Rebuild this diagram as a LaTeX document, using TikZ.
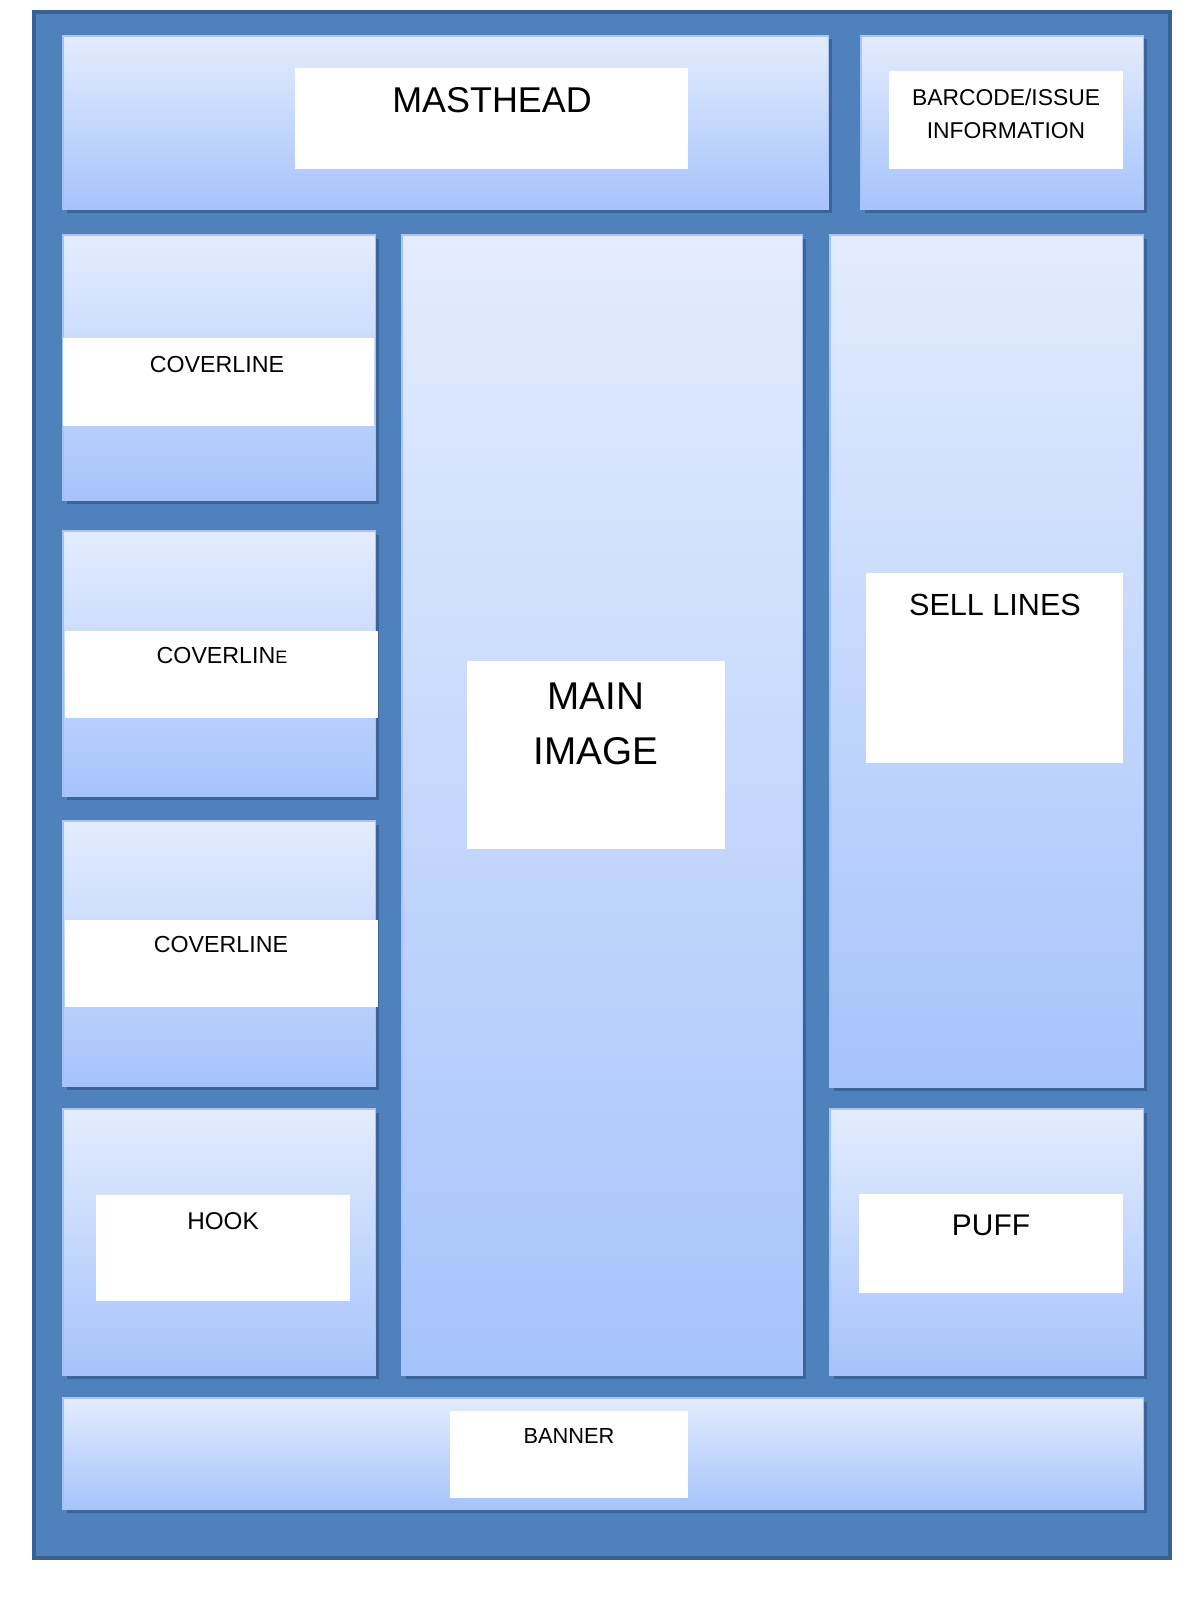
\documentclass[tikz,border=0pt]{standalone}
\usepackage{fontspec}
\setmainfont{Liberation Sans}
\usepackage{tikz}
\usetikzlibrary{shadows,positioning}

\definecolor{frameblue}{HTML}{4F81BD}
\definecolor{framedark}{HTML}{3A6194}
\definecolor{paneltop}{HTML}{E3ECFD}
\definecolor{panelbot}{HTML}{A6C3FB}

\begin{document}
\begin{tikzpicture}[x=0.01cm,y=-0.01cm,
   panel/.style={anchor=north west,inner sep=0pt,outer sep=0pt,
      top color=paneltop,bottom color=panelbot,draw=panelbot,line width=0.3pt,
      drop shadow={shadow xshift=0.035cm,shadow yshift=-0.035cm,fill=framedark,opacity=0.9}},
   whitebox/.style={anchor=north west,inner sep=0pt,outer sep=0pt,fill=white},
   caption/.style={anchor=base,inner sep=0pt,text=black}]
   \useasboundingbox (0,0) rectangle (1200,1600);
   % page frame
   \node[anchor=north west,inner sep=0pt,minimum width=11.35cm,minimum height=15.45cm,
      fill=frameblue,draw=framedark,line width=0.04cm] (page) at (32,10) {};
   % panels
   \node[panel,minimum width=7.65cm,minimum height=1.73cm] (mast) at (63,36) {};
   \node[panel,minimum width=2.82cm,minimum height=1.73cm] (barcode) at (861,36) {};
   \node[panel,minimum width=3.12cm,minimum height=2.65cm] (cover1) at (63,235) {};
   \node[panel,minimum width=3.12cm,minimum height=2.65cm] (cover2) at (63,531) {};
   \node[panel,minimum width=3.12cm,minimum height=2.65cm] (cover3) at (63,821) {};
   \node[panel,minimum width=3.12cm,minimum height=2.66cm] (hook) at (63,1109) {};
   \node[panel,minimum width=4.00cm,minimum height=11.40cm] (mainimg) at (402,235) {};
   \node[panel,minimum width=3.13cm,minimum height=8.52cm] (sell) at (830,235) {};
   \node[panel,minimum width=3.13cm,minimum height=2.66cm] (puff) at (830,1109) {};
   \node[panel,minimum width=10.80cm,minimum height=1.11cm] (banner) at (63,1398) {};
   % white boxes
   \node[whitebox,minimum width=3.93cm,minimum height=1.01cm] (mastw) at (295,68) {};
   \node[whitebox,minimum width=2.34cm,minimum height=0.98cm] (barcodew) at (889,71) {};
   \node[whitebox,minimum width=3.11cm,minimum height=0.88cm] (cover1w) at (63,338) {};
   \node[whitebox,minimum width=3.13cm,minimum height=0.87cm] (cover2w) at (65,631) {};
   \node[whitebox,minimum width=3.13cm,minimum height=0.87cm] (cover3w) at (65,920) {};
   \node[whitebox,minimum width=2.54cm,minimum height=1.06cm] (hookw) at (96,1195) {};
   \node[whitebox,minimum width=2.58cm,minimum height=1.88cm] (mainimgw) at (467,661) {};
   \node[whitebox,minimum width=2.57cm,minimum height=1.90cm] (sellw) at (866,573) {};
   \node[whitebox,minimum width=2.64cm,minimum height=0.99cm] (puffw) at (859,1194) {};
   \node[whitebox,minimum width=2.38cm,minimum height=0.87cm] (bannerw) at (450,1411) {};
   % texts
   \node[caption,font=\fontsize{10.2}{12}\selectfont] (masttxt) at (492,113) {MASTHEAD};
   \node[caption,anchor=north,align=center,font=\fontsize{6.5}{9.4}\selectfont] (barcodetxt) at (1006,88) {BARCODE/ISSUE\\INFORMATION};
   \node[caption,font=\fontsize{6.6}{8}\selectfont] (cover1txt) at (217,372) {COVERLINE};
   \node[caption,font=\fontsize{6.6}{8}\selectfont] (cover2txt) at (222,663) {COVERLIN{\fontsize{5.1}{6}\selectfont E}};
   \node[caption,font=\fontsize{6.6}{8}\selectfont] (cover3txt) at (221,952) {COVERLINE};
   \node[caption,font=\fontsize{6.9}{8}\selectfont] (hooktxt) at (223,1229) {HOOK};
   \node[caption,anchor=north,align=center,font=\fontsize{11}{15.6}\selectfont] (mainimgtxt) at (596,682) {MAIN\\IMAGE};
   \node[caption,font=\fontsize{8.7}{10}\selectfont] (selltxt) at (995,615) {SELL LINES};
   \node[caption,font=\fontsize{8.5}{10}\selectfont] (pufftxt) at (991,1235) {PUFF};
   \node[caption,font=\fontsize{6.2}{8}\selectfont] (bannertxt) at (569,1443) {BANNER};
\end{tikzpicture}
\end{document}
